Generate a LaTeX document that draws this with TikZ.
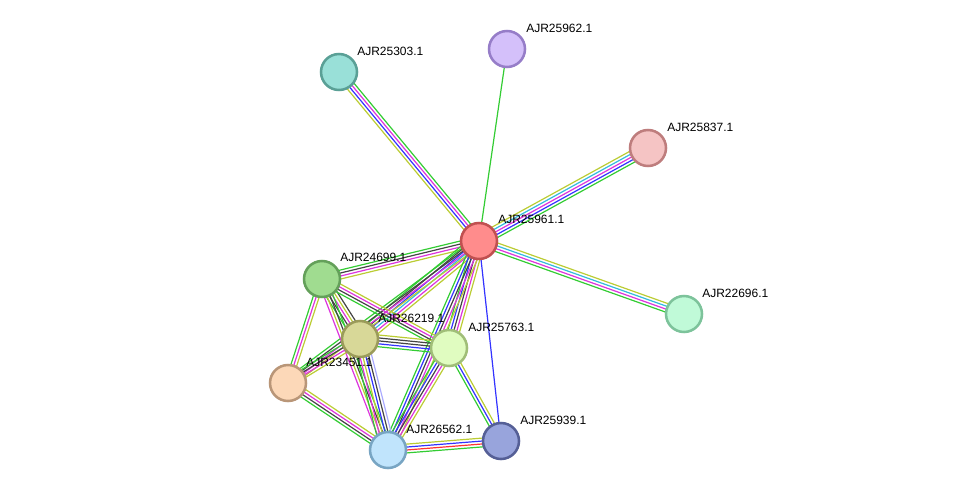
\documentclass[tikz,border=0pt]{standalone}
\usepackage{fontspec}
\setmainfont{Liberation Sans}
\usetikzlibrary{calc}
\definecolor{eg}{HTML}{33CC33}
\definecolor{eb}{HTML}{3333FF}
\definecolor{em}{HTML}{DD33DD}
\definecolor{ek}{HTML}{444444}
\definecolor{ey}{HTML}{BBCC33}
\definecolor{ec}{HTML}{33BBDD}
\definecolor{er}{HTML}{FF3333}
\definecolor{el}{HTML}{AAAAFF}
\newcommand{\medge}[3]{%
  \foreach \c [count=\i] in {#3} {\xdef\nn{\i}}%
  \foreach \c [count=\i] in {#3} {%
    \pgfmathsetmacro{\off}{(\i-(\nn+1)/2)*2.2}%
    \draw[\c,line width=0.9pt] ($(#1)!\off pt!90:(#2)$) -- ($(#2)!\off pt!-90:(#1)$);%
  }%
}
\tikzset{
  prot/.style={circle,minimum size=27pt,inner sep=0pt,line width=1.9pt},
  lab/.style={font=\fontsize{9pt}{10pt}\selectfont,anchor=west,inner sep=0pt},
}
\begin{document}
\begin{tikzpicture}[x=0.75pt,y=-0.75pt]
\useasboundingbox (0,0) rectangle (976,496);
\coordinate (A) at (479,241);
\coordinate (B) at (507,49);
\coordinate (C) at (339,72);
\coordinate (D) at (648,148);
\coordinate (E) at (684,314);
\coordinate (F) at (322,279);
\coordinate (G) at (360,339);
\coordinate (H) at (449,348);
\coordinate (I) at (288,383);
\coordinate (J) at (388,450);
\coordinate (K) at (501,441);
\medge{A}{B}{eg}
\medge{A}{C}{eg,em,eb,ey}
\medge{A}{D}{eg,eb,em,ec,ey}
\medge{A}{E}{eg,em,ec,ey}
\medge{A}{F}{eg,ek,em,ey}
\medge{A}{G}{eg,ek,eb,ec,em,ey}
\medge{A}{H}{eg,eb,ek,em,ey}
\medge{A}{I}{eg,ek,em,ey}
\medge{A}{J}{eg,eb,ek,em,ey}
\medge{A}{K}{eb}
\medge{F}{G}{eg,ek,em,ey,ek}
\medge{F}{H}{eg,ek,em,ey}
\medge{F}{I}{eg,em,ey}
\medge{F}{J}{em,ey,ek,eg}
\medge{G}{H}{eg,eb,ek,ek,ey}
\medge{G}{I}{eg,ek,em,ey}
\medge{G}{J}{eg,em,ey,eb,ek,el}
\medge{H}{J}{eg,eb,ek,em,ey}
\medge{H}{K}{eg,eb,ey}
\medge{I}{J}{eg,ek,em,ey}
\medge{J}{K}{eg,er,eb,ey}
\node[prot,fill={rgb,255:red,255;green,140;blue,140},draw={rgb,255:red,192;green,80;blue,80}] (a) at (A) {};
\node[prot,fill={rgb,255:red,212;green,192;blue,250},draw={rgb,255:red,150;green,125;blue,200}] (b) at (B) {};
\node[prot,fill={rgb,255:red,153;green,224;blue,216},draw={rgb,255:red,90;green,160;blue,150}] (c) at (C) {};
\node[prot,fill={rgb,255:red,245;green,196;blue,196},draw={rgb,255:red,190;green,125;blue,125}] (d) at (D) {};
\node[prot,fill={rgb,255:red,192;green,250;blue,216},draw={rgb,255:red,125;green,195;blue,155}] (e) at (E) {};
\node[prot,fill={rgb,255:red,160;green,220;blue,144},draw={rgb,255:red,100;green,160;blue,90}] (f) at (F) {};
\node[prot,fill={rgb,255:red,216;green,216;blue,152},draw={rgb,255:red,155;green,155;blue,90}] (g) at (G) {};
\node[prot,fill={rgb,255:red,224;green,252;blue,192},draw={rgb,255:red,160;green,190;blue,120}] (h) at (H) {};
\node[prot,fill={rgb,255:red,252;green,216;blue,184},draw={rgb,255:red,185;green,150;blue,120}] (i) at (I) {};
\node[prot,fill={rgb,255:red,192;green,228;blue,252},draw={rgb,255:red,120;green,165;blue,195}] (j) at (J) {};
\node[prot,fill={rgb,255:red,152;green,164;blue,220},draw={rgb,255:red,85;green,95;blue,150}] (k) at (K) {};
\node[lab] (la) at (498,219) {AJR25961.1};
\node[lab] (lb) at (526,28) {AJR25962.1};
\node[lab] (lc) at (357,51) {AJR25303.1};
\node[lab] (ld) at (667,127) {AJR25837.1};
\node[lab] (le) at (702,293) {AJR22696.1};
\node[lab] (lf) at (340,257) {AJR24699.1};
\node[lab] (lg) at (378,318) {AJR26219.1};
\node[lab] (lh) at (468,327) {AJR25763.1};
\node[lab] (li) at (306,362) {AJR23451.1};
\node[lab] (lj) at (406,429) {AJR26562.1};
\node[lab] (lk) at (520,420) {AJR25939.1};
\end{tikzpicture}
\end{document}
